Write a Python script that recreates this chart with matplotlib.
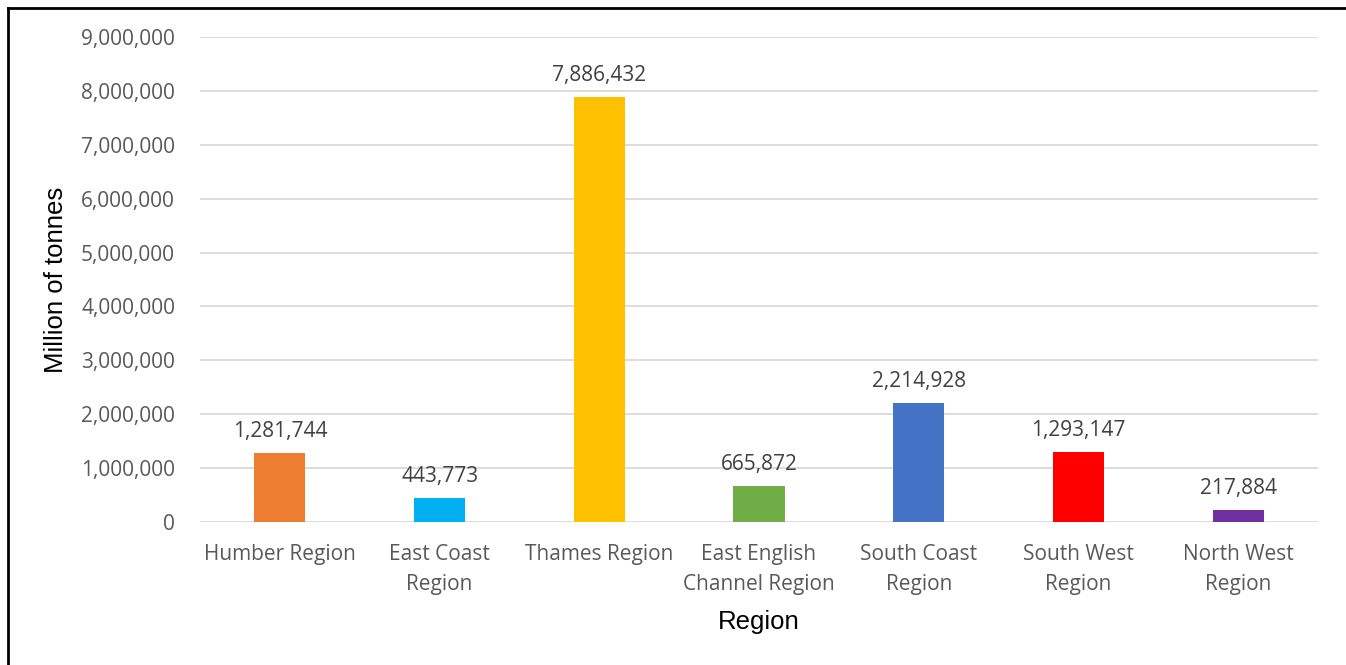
import matplotlib
matplotlib.use("Agg")
import matplotlib.pyplot as plt
from matplotlib.lines import Line2D
from matplotlib.ticker import FuncFormatter

categories = ["Humber Region", "East Coast\nRegion", "Thames Region",
              "East English\nChannel Region", "South Coast\nRegion",
              "South West\nRegion", "North West\nRegion"]
values = [1281744, 443773, 7886432, 665872, 2214928, 1293147, 217884]
colors = ["#ED7D31", "#00B0F0", "#FFC000", "#70AD47", "#4472C4", "#FF0000", "#7030A0"]
yticks = [0, 1000000, 2000000, 3000000, 4000000, 5000000, 6000000, 7000000, 8000000, 9000000]

W, H = 1346, 665
fig = plt.figure(figsize=(W / 100, H / 100), dpi=100)
ax = fig.add_axes([200 / W, 1 - 522 / H, (1318 - 200) / W, (522 - 37) / H])

fam = ["Open Sans", "DejaVu Sans"]
fs = 15
x = list(range(len(categories)))
ax.bar(x, values, width=0.32, color=colors, zorder=3)
ax.set_xlim(-0.5, len(categories) - 0.5)
ax.set_ylim(0, 9000000)
ax.set_yticks(yticks)
ax.yaxis.set_major_formatter(FuncFormatter(lambda v, p: f"{int(v):,}"))
ax.set_xticks(x)
ax.set_xticklabels(categories, fontsize=fs, color="#595959", family=fam, linespacing=1.55)
for lab in ax.get_yticklabels():
    lab.set_fontsize(fs)
    lab.set_color("#595959")
    lab.set_family(fam)
ax.tick_params(axis="both", length=0)
ax.tick_params(axis="y", pad=18)
ax.tick_params(axis="x", pad=16)
ax.grid(axis="y", color="#D9D9D9", linewidth=1.3, zorder=0)
for s in ax.spines.values():
    s.set_visible(False)

for xi, v in zip(x, values):
    ax.annotate(f"{v:,}", (xi, v), xytext=(0, 8), textcoords="offset points",
                ha="center", va="bottom", fontsize=fs, color="#404040", family=fam)

lfam = ["Liberation Sans", "DejaVu Sans"]
ax.set_ylabel("Million of tonnes", fontsize=18.5, color="black", family=lfam, labelpad=9)
ax.set_xlabel("Region", fontsize=18.5, color="black", family=lfam, labelpad=11)

fig.add_artist(Line2D([7.5 / W, 1], [1 - 7.5 / H, 1 - 7.5 / H], transform=fig.transFigure, color="black", linewidth=2))
fig.add_artist(Line2D([7.5 / W, 7.5 / W], [0, 1 - 7.5 / H], transform=fig.transFigure, color="black", linewidth=2))

fig.savefig("out.png", dpi=100)
